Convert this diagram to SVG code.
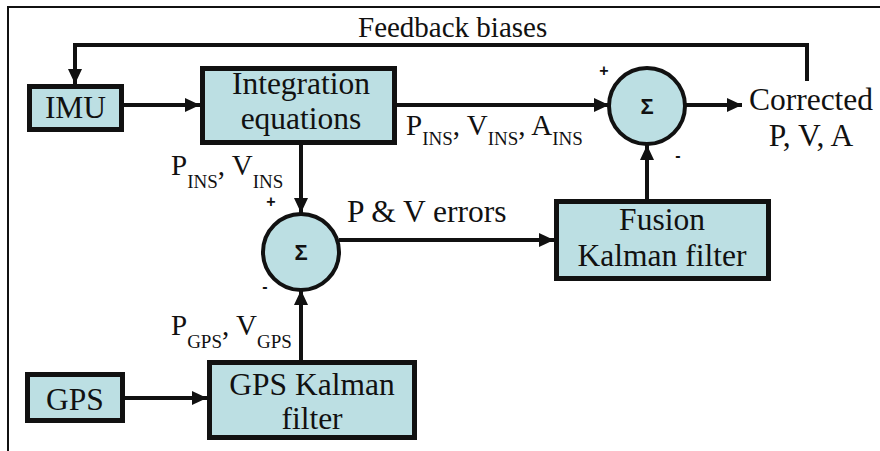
<svg xmlns="http://www.w3.org/2000/svg" width="880" height="451" viewBox="0 0 880 451">
<defs>
<marker id="arr" markerUnits="userSpaceOnUse" markerWidth="16" markerHeight="16" viewBox="0 0 16 16" refX="15" refY="8" orient="auto">
<path d="M0,1 L15,8 L0,15 Z" fill="#111"/>
</marker>
<style>
.box{fill:#bcdfe3;stroke:#111;stroke-width:5}
.sum{fill:#bcdfe3;stroke:#111;stroke-width:4}
.ln{fill:none;stroke:#111;stroke-width:4}
.txt{font-family:'Liberation Serif',serif;fill:#111;font-size:31.5px}
.lab{font-family:'Liberation Serif',serif;fill:#111;font-size:29px}
.sub{font-size:19px}
.sig{font-family:'Liberation Sans',sans-serif;font-weight:bold;font-size:22px;fill:#111}
.sg{font-family:'Liberation Sans',sans-serif;font-weight:bold;font-size:16px;fill:#111}
</style>
</defs>
<rect width="880" height="451" fill="#fff"/>
<g id="frame">
<path d="M8,451 V7 H880" fill="none" stroke="#111" stroke-width="2"/>
</g>
<g id="connectors">
<path class="ln" d="M807,81 V45 H75 V84" marker-end="url(#arr)"/>
<path class="ln" d="M124,105 H200" marker-end="url(#arr)"/>
<path class="ln" d="M397,105 H609" marker-end="url(#arr)"/>
<path class="ln" d="M686,105 H742" marker-end="url(#arr)"/>
<path class="ln" d="M301,145 V213" marker-end="url(#arr)"/>
<path class="ln" d="M647,199 V145" marker-end="url(#arr)"/>
<path class="ln" d="M339,240 H554" marker-end="url(#arr)"/>
<path class="ln" d="M301,360 V290" marker-end="url(#arr)"/>
<path class="ln" d="M125,398 H207" marker-end="url(#arr)"/>
</g>
<g id="labels">
<text class="lab" x="358" y="37">Feedback biases</text>
<text class="lab" x="406" y="135">P<tspan class="sub" dy="10">INS</tspan><tspan dy="-10">, V</tspan><tspan class="sub" dy="10">INS</tspan><tspan dy="-10">, A</tspan><tspan class="sub" dy="10">INS</tspan></text>
<text class="lab" x="171" y="175">P<tspan class="sub" dy="13">INS</tspan><tspan dy="-13">, V</tspan><tspan class="sub" dy="13">INS</tspan></text>
<text class="lab" x="171" y="335">P<tspan class="sub" dy="13">GPS</tspan><tspan dy="-13">, V</tspan><tspan class="sub" dy="13">GPS</tspan></text>
<text class="txt" x="347" y="222">P &amp; V errors</text>
<text class="txt" x="811" y="110" text-anchor="middle">Corrected</text>
<text class="txt" x="811" y="146" text-anchor="middle">P, V, A</text>
</g>
<g id="imu">
<rect class="box" x="29.5" y="86.5" width="92" height="43"/>
<text class="txt" x="75.5" y="118" text-anchor="middle">IMU</text>
</g>
<g id="integration">
<rect class="box" x="202.5" y="68.5" width="192" height="74"/>
<text class="txt" x="301" y="94" text-anchor="middle">Integration</text>
<text class="txt" x="301" y="129" text-anchor="middle">equations</text>
</g>
<g id="sum2">
<circle class="sum" cx="647" cy="106" r="38"/>
<text class="sig" x="647" y="114" text-anchor="middle">Σ</text>
<text class="sg" x="604" y="76" text-anchor="middle">+</text>
<text class="sg" x="678" y="161" text-anchor="middle">-</text>
</g>
<g id="sum1">
<circle class="sum" cx="301" cy="252" r="38"/>
<text class="sig" x="301" y="260" text-anchor="middle">Σ</text>
<text class="sg" x="271" y="207" text-anchor="middle">+</text>
<text class="sg" x="265" y="292" text-anchor="middle">-</text>
</g>
<g id="fusion">
<rect class="box" x="556.5" y="201.5" width="212" height="77"/>
<text class="txt" x="662" y="230" text-anchor="middle">Fusion</text>
<text class="txt" x="662" y="266" text-anchor="middle">Kalman filter</text>
</g>
<g id="gpskf">
<rect class="box" x="209.5" y="362.5" width="205" height="75"/>
<text class="txt" x="312" y="395" text-anchor="middle">GPS Kalman</text>
<text class="txt" x="312" y="429" text-anchor="middle">filter</text>
</g>
<g id="gps">
<rect class="box" x="27.5" y="374.5" width="95" height="46"/>
<text class="txt" x="75" y="410" text-anchor="middle">GPS</text>
</g>
</svg>
